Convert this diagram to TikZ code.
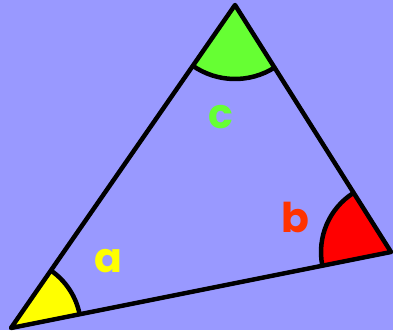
\documentclass[tikz,border=0pt]{standalone}
\usepackage{fontspec}
\newfontfamily\labfont{Poppins}
\definecolor{bgc}{HTML}{9999FF}
\definecolor{ycol}{HTML}{FFFF00}
\definecolor{gcol}{HTML}{66FF33}
\definecolor{rcol}{HTML}{FF0000}
\definecolor{bcol}{HTML}{FF3300}
\tikzset{
  edge/.style={line width=4.5pt, line cap=round, line join=round, black},
  arcline/.style={line width=4.5pt, black},
  lab/.style={font=\labfont\bfseries\fontsize{41}{41}\selectfont, inner sep=0pt, anchor=base}
}
\begin{document}
\begin{tikzpicture}[x=1pt,y=1pt]
\fill[bgc] (0,0) rectangle (393,330);
\useasboundingbox (0,0) rectangle (393,330);
\coordinate (A) at (11,2);
\coordinate (C) at (235,325);
\coordinate (B) at (391,78);
% sectors
\fill[ycol] (A) -- ++(11.31:70) arc[start angle=11.31, end angle=55.26, radius=70] -- cycle;
\fill[gcol] (C) -- ++(235.26:74) arc[start angle=235.26, end angle=302.28, radius=74] -- cycle;
\fill[rcol] (B) -- ++(122.28:70) arc[start angle=122.28, end angle=191.31, radius=70] -- cycle;
% arcs
\draw[arcline] (A) ++(11.31:70) arc[start angle=11.31, end angle=55.26, radius=70];
\draw[arcline] (C) ++(235.26:74) arc[start angle=235.26, end angle=302.28, radius=74];
\draw[arcline] (B) ++(122.28:70) arc[start angle=122.28, end angle=191.31, radius=70];
% triangle
\draw[edge] (A) -- (C) -- (B) -- cycle;
% labels
\node[lab, text=ycol] (la) at (108,58) {a};
\node[lab, text=bcol] (lb) at (295,98) {b};
\node[lab, text=gcol] (lc) at (221,202) {c};
\end{tikzpicture}
\end{document}
